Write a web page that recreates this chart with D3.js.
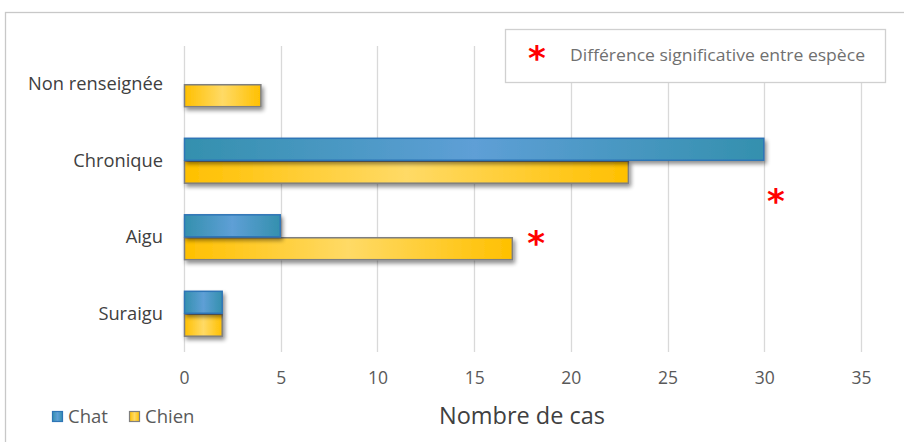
<!DOCTYPE html>
<html><head><meta charset="utf-8">
<script src="https://cdn.jsdelivr.net/npm/d3@7"></script>
<style>body{margin:0;background:#fff;}svg{display:block;font-family:"Open Sans",sans-serif;}</style>
</head><body>
<svg id="c" width="904" height="442"></svg>
<script>
const categories = ["Non renseignée","Chronique","Aigu","Suraigu"];
const seriesNames = ["Chat","Chien"];
const chatValues = [0,30,5,2];
const chienValues = [4,23,17,2];
const xTicks = [0,5,10,15,20,25,30,35];
const starMarks = [{cat:"Aigu", value:18.2, dy:18},{cat:"Chronique", value:30.6, dy:52}];
const legendNote = "Différence significative entre espèce";
const axisTitle = "Nombre de cas";

const FONT = "'Open Sans',sans-serif";
const svg = d3.select("#c");
const m = {l:184, r:861, t:46, b:352};
const x = d3.scaleLinear().domain([0,35]).range([m.l,m.r]);
const y = d3.scaleBand().domain(categories).range([m.t,m.b]).paddingInner(0.4).paddingOuter(0.2);
const ys = d3.scaleBand().domain(seriesNames).range([0,y.bandwidth()]);

const defs = svg.append("defs");
function grad(id, edge, mid){
  const g = defs.append("linearGradient").attr("id",id).attr("x1","0").attr("x2","1").attr("y1","0").attr("y2","0");
  g.append("stop").attr("offset","0%").attr("stop-color",edge);
  g.append("stop").attr("offset","50%").attr("stop-color",mid);
  g.append("stop").attr("offset","100%").attr("stop-color",edge);
}
grad("gChat","#3490AE","#5E9FD6");
grad("gChien","#FFC000","#FFDA66");
const f = defs.append("filter").attr("id","sh").attr("x","-20%").attr("y","-40%").attr("width","140%").attr("height","200%");
f.append("feGaussianBlur").attr("in","SourceAlpha").attr("stdDeviation",2);
f.append("feOffset").attr("dx",2).attr("dy",3).attr("result","ob");
f.append("feComponentTransfer").append("feFuncA").attr("type","linear").attr("slope",0.45);
const fm = f.append("feMerge"); fm.append("feMergeNode"); fm.append("feMergeNode").attr("in","SourceGraphic");

// outer border
svg.append("rect").attr("x",5.5).attr("y",12.5).attr("width",1000).attr("height",1000).attr("fill","none").attr("stroke","#C8C8C8").attr("stroke-width",1.3);

// gridlines
svg.append("g").selectAll("line").data(xTicks).join("line")
  .attr("x1",d=>Math.round(x(d))+0.5).attr("x2",d=>Math.round(x(d))+0.5)
  .attr("y1",m.t).attr("y2",m.b).attr("stroke","#D9D9D9").attr("stroke-width",1.3);

// tick labels
const xa = svg.append("g").attr("transform",`translate(0,${m.b})`).call(d3.axisBottom(x).tickValues(xTicks).tickSize(0).tickPadding(20));
xa.select(".domain").remove();
xa.selectAll("text").attr("font-family",FONT).attr("font-size",17.5).attr("fill","#595959");

// category labels
const ya = svg.append("g").attr("transform",`translate(${m.l},0)`).call(d3.axisLeft(y).tickSize(0).tickPadding(21));
ya.select(".domain").remove();
ya.selectAll("text").attr("font-family",FONT).attr("font-size",18.3).attr("fill","#404040");

// bars
const rows = categories.map((c,i)=>({cat:c, Chat:chatValues[i], Chien:chienValues[i]}));
const styles = {Chat:{fill:"url(#gChat)",stroke:"#2E75B6"}, Chien:{fill:"url(#gChien)",stroke:"#7F7F7F"}};
const gb = svg.append("g");
["Chien","Chat"].forEach(s=>{
  gb.selectAll(null).data(rows.filter(r=>r[s]>0)).join("rect")
    .attr("x",x(0)+0.5).attr("y",r=>y(r.cat)+ys(s)+0.5)
    .attr("width",r=>x(r[s])-x(0)-1).attr("height",ys.bandwidth()-1)
    .attr("fill",styles[s].fill).attr("stroke",styles[s].stroke).attr("stroke-width",1.5)
    .attr("filter","url(#sh)");
});

// stars
svg.append("g").selectAll("text").data(starMarks).join("text")
  .attr("x",d=>x(d.value)).attr("y",d=>y(d.cat)+y.bandwidth()/2+d.dy)
  .attr("text-anchor","middle").attr("font-size",34).attr("font-weight","bold").attr("fill","#FF0000")
  .attr("font-family","DejaVu Sans,sans-serif").text("*");

// legend box top right
const lg = svg.append("g");
lg.append("rect").attr("x",505.5).attr("y",29.5).attr("width",380).attr("height",53).attr("fill","#fff").attr("stroke","#D0D0D0").attr("stroke-width",1.3);
lg.append("text").attr("x",537).attr("y",70).attr("text-anchor","middle").attr("font-size",34).attr("font-weight","bold").attr("fill","#FF0000").attr("font-family","DejaVu Sans,sans-serif").text("*");
lg.append("text").attr("x",570).attr("y",61).attr("font-size",16.5).attr("fill","#707070").attr("textLength",295).attr("lengthAdjust","spacingAndGlyphs").text(legendNote);

// axis title
svg.append("text").attr("x",522).attr("y",424).attr("text-anchor","middle").attr("font-size",23.5).attr("fill","#404040").text(axisTitle);

// bottom legend
const bl = svg.append("g");
const legItems = [{name:"Chat", x:52, fill:"url(#gChat)", stroke:"#2E75B6"},{name:"Chien", x:129, fill:"url(#gChien)", stroke:"#7F7F7F"}];
bl.selectAll("rect").data(legItems).join("rect").attr("x",d=>d.x+0.5).attr("y",411.5).attr("width",10).attr("height",10)
  .attr("fill",d=>d.fill).attr("stroke",d=>d.stroke).attr("stroke-width",1.2);
bl.selectAll("text").data(legItems).join("text").attr("x",d=>d.x+16).attr("y",423).attr("font-size",18.5).attr("fill","#595959").text(d=>d.name);
</script>
</body></html>
